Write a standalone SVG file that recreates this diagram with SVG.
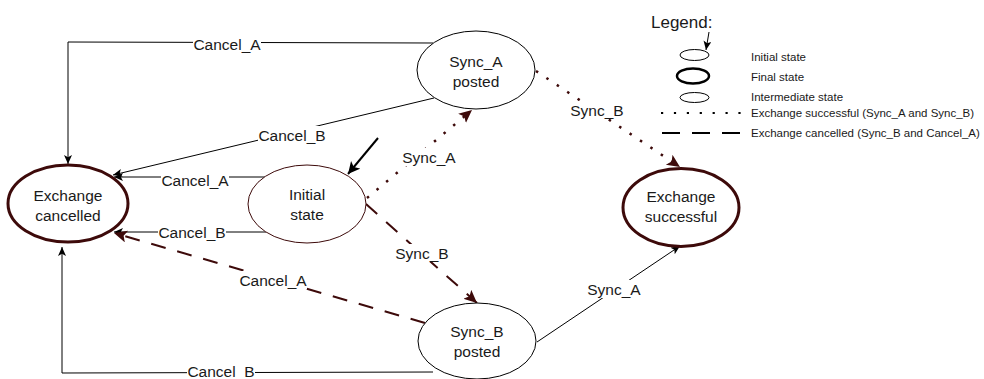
<svg xmlns="http://www.w3.org/2000/svg" width="984" height="379" viewBox="0 0 984 379">
<style>
text{font-family:"Liberation Sans",Arial,sans-serif;fill:#1a1a1a}
.nt{font-size:15.5px;text-anchor:middle}
.el{font-size:15.5px;text-anchor:middle}
.lg{font-size:11.5px}
.st{fill:#fff;stroke:#000;stroke-width:1}
.init{fill:#fff;stroke:#3d0a0a;stroke-width:1}
.fin{fill:#fff;stroke:#3d0a0a;stroke-width:3}
.bl{fill:none;stroke:#000;stroke-width:1}
.dot{fill:none;stroke:#3d0a0a;stroke-width:2.5;stroke-dasharray:2.5 10}
.dash{fill:none;stroke:#3d0a0a;stroke-width:2;stroke-dasharray:15 12}
.bg{fill:#fff}
</style>
<defs>
<marker id="ab" markerUnits="userSpaceOnUse" markerWidth="12" markerHeight="10" refX="9" refY="4" orient="auto">
<path d="M0,0 L9,4 L0,8 L2.2,4 Z" fill="#000"/>
</marker>
<marker id="ar" markerUnits="userSpaceOnUse" markerWidth="16" markerHeight="14" refX="13" refY="6" orient="auto">
<path d="M0,0 L13,6 L0,12 L3,6 Z" fill="#3d0a0a"/>
</marker>
<marker id="as" markerUnits="userSpaceOnUse" markerWidth="16" markerHeight="14" refX="12" refY="6" orient="auto">
<path d="M0,0 L12,6 L0,12 L3,6 Z" fill="#000"/>
</marker>
</defs>

<g id="connectors">
<path class="bl" d="M433,43 L68,42 L68,164" marker-end="url(#ab)"/>
<path class="bl" d="M434,98 L113,175" marker-end="url(#ab)"/>
<path class="bl" d="M265,177 L114,177" marker-end="url(#ab)"/>
<path class="bl" d="M266,232 L114,232" marker-end="url(#ab)"/>
<path class="bl" d="M433,372 L62,373 L62,247" marker-end="url(#ab)"/>
<path class="dash" d="M425,323 L114,233" marker-end="url(#ar)"/>
<path class="dot" d="M367,198 L472,110" marker-end="url(#ar)"/>
<path class="dash" d="M366,204 L477,303" marker-end="url(#ar)"/>
<path class="dot" d="M536,71 L680,167" marker-end="url(#ar)"/>
<path class="bl" d="M537,342 L680,246" marker-end="url(#ab)"/>
<path d="M378,138 L348,174" fill="none" stroke="#000" stroke-width="2" marker-end="url(#as)"/>

<rect class="bg" x="193" y="35" width="68" height="18"/>
<text class="el" x="227" y="49.5">Cancel_A</text>
<rect class="bg" x="258" y="126" width="68" height="18"/>
<text class="el" x="292" y="140.5">Cancel_B</text>
<rect class="bg" x="161" y="171" width="68" height="18"/>
<text class="el" x="195" y="185.5">Cancel_A</text>
<rect class="bg" x="158" y="223" width="68" height="18"/>
<text class="el" x="192" y="237.5">Cancel_B</text>
<rect class="bg" x="187" y="364" width="68" height="15"/>
<text class="el" x="221" y="377">Cancel_B</text>
<rect class="bg" x="239" y="271" width="68" height="18"/>
<text class="el" x="273" y="285.5">Cancel_A</text>
<rect class="bg" x="402" y="148" width="54" height="18"/>
<text class="el" x="429" y="162.5">Sync_A</text>
<rect class="bg" x="395" y="244" width="54" height="18"/>
<text class="el" x="422" y="258.5">Sync_B</text>
<rect class="bg" x="570" y="101" width="54" height="18"/>
<text class="el" x="597" y="115.5">Sync_B</text>
<rect class="bg" x="587" y="280" width="54" height="18"/>
<text class="el" x="614" y="294.5">Sync_A</text>
</g>

<g id="sync_a_posted">
<ellipse class="st" cx="476" cy="70" rx="59" ry="39"/>
<text class="nt" x="476" y="66.5">Sync_A</text>
<text class="nt" x="476" y="86.5">posted</text>
</g>
<g id="initial_state">
<ellipse class="init" cx="307" cy="204" rx="59" ry="39"/>
<text class="nt" x="307" y="200">Initial</text>
<text class="nt" x="307" y="220">state</text>
</g>
<g id="exchange_cancelled">
<ellipse class="fin" cx="68" cy="203.5" rx="60" ry="38.5"/>
<text class="nt" x="68" y="200.5">Exchange</text>
<text class="nt" x="68" y="220.5">cancelled</text>
</g>
<g id="exchange_successful">
<ellipse class="fin" cx="681" cy="207.5" rx="58" ry="39"/>
<text class="nt" x="681" y="202">Exchange</text>
<text class="nt" x="681" y="221.5">successful</text>
</g>
<g id="sync_b_posted">
<ellipse class="st" cx="477" cy="341" rx="59" ry="38"/>
<text class="nt" x="477" y="337">Sync_B</text>
<text class="nt" x="477" y="357">posted</text>
</g>

<g id="legend">
<text x="651" y="28" style="font-size:17px">Legend:</text>
<path d="M709,32 L706,50" fill="none" stroke="#000" stroke-width="1" marker-end="url(#ab)"/>
<ellipse cx="694.5" cy="55" rx="14.5" ry="5.5" fill="#fff" stroke="#000" stroke-width="1"/>
<ellipse cx="693" cy="76" rx="16" ry="7.5" fill="#fff" stroke="#000" stroke-width="2.5"/>
<ellipse cx="694.5" cy="97.5" rx="14.5" ry="5" fill="#fff" stroke="#000" stroke-width="1"/>
<path d="M661,113 L742,113" fill="none" stroke="#000" stroke-width="2.2" stroke-dasharray="2.2 10.7"/>
<path d="M662,133 L740,133" fill="none" stroke="#000" stroke-width="2" stroke-dasharray="18 12"/>
<text class="lg" x="751" y="61">Initial state</text>
<text class="lg" x="751" y="81">Final state</text>
<text class="lg" x="751" y="101">Intermediate state</text>
<text class="lg" x="751" y="117">Exchange successful (Sync_A and Sync_B)</text>
<text class="lg" x="751" y="137">Exchange cancelled (Sync_B and Cancel_A)</text>
</g>
</svg>
